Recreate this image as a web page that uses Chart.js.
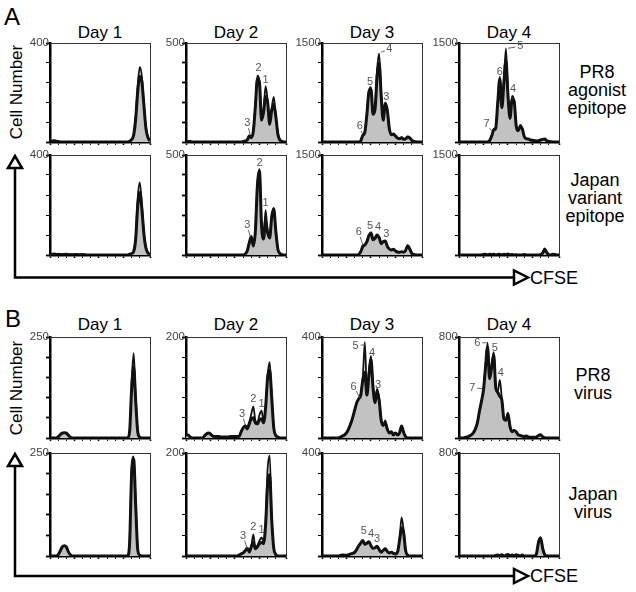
<!DOCTYPE html>
<html>
<head>
<meta charset="utf-8">
<script src="https://cdn.jsdelivr.net/npm/chart.js@4.4.1/dist/chart.umd.min.js"></script>
<style>
  body { margin: 0; background: #fff; }
  #fig { position: relative; width: 636px; height: 592px; overflow: hidden;
         font-family: 'Liberation Sans', Arial, sans-serif; color: #000; }
  #fig canvas { position: absolute; }
  #fig svg { position: absolute; left: 0; top: 0; }
  .t { position: absolute; white-space: nowrap; }
  .day { font-size: 17px; line-height: 17px; transform: translateX(-50%); }
  .big { font-size: 24px; line-height: 24px; }
  .ylab { font-size: 17px; line-height: 17px; transform: translate(-50%, -50%) rotate(-90deg); }
  .side { font-size: 18px; line-height: 18px; text-align: center; transform: translateX(-50%); }
  .cfse { font-size: 18px; line-height: 18px; }
</style>
</head>
<body>
<div id="fig">
  <svg width="636" height="592">
    <g stroke="#000" stroke-width="2.5" fill="#fff">
      <polyline points="15,168 15,277.5 514,277.5" fill="none"/>
      <polygon points="8,168 22,168 15,156"/>
      <polygon points="514,270.5 514,284.5 528,277.5"/>
      <polyline points="15,466 15,576 514,576" fill="none"/>
      <polygon points="8,466 22,466 15,454"/>
      <polygon points="514,569 514,583 528,576"/>
    </g>
  </svg>
  <div class="t big" style="left:4px; top:5px;">A</div>
  <div class="t big" style="left:5px; top:307px;">B</div>
  <div class="t ylab" style="left:15.5px; top:92px;">Cell Number</div>
  <div class="t ylab" style="left:15.5px; top:388px;">Cell Number</div>
  <div class="t side" style="left:597px; top:63px;">PR8<br>agonist<br>epitope</div>
  <div class="t side" style="left:595px; top:171px;">Japan<br>variant<br>epitope</div>
  <div class="t side" style="left:593px; top:366px;">PR8<br>virus</div>
  <div class="t side" style="left:593px; top:485px;">Japan<br>virus</div>
  <div class="t cfse" style="left:530px; top:269px;">CFSE</div>
  <div class="t cfse" style="left:530px; top:567px;">CFSE</div>
</div>
<script>
// CFSE channel bins (x) shared by every histogram
const bins = [0,1,2,3,4,5,6,7,8,9, 10,11,12,13,14,15,16,17,18,19, 20,21,22,23,24,25,26,27,28,29,
              30,31,32,33,34,35,36,37,38,39, 40,41,42,43,44,45,46,47,48,49];

const dayTitles = ['Day 1', 'Day 2', 'Day 3', 'Day 4'];
const rowMax = [
  [400, 500, 1500, 1500],
  [400, 500, 1500, 1500],
  [250, 200, 400, 800],
  [250, 200, 400, 800]
];
// major tick spacing on each count axis
const rowMajor = [
  [100, 100, 500, 500],
  [100, 100, 500, 500],
  [50, 50, 100, 200],
  [50, 50, 100, 200]
];

// A - PR8 agonist epitope
const a1d1Grey = [6,4,5,3,2,0,0,0,0,0, 0,0,0,0,0,0,0,0,0,0, 0,0,0,0,0,0,0,0,0,0, 0,0,0,0,0,0,0,0,0,3, 10,28,95,205,265,245,150,55,18,4];
const a1d1Line = [6,4,5,3,2,0,0,0,0,0, 0,0,0,0,0,0,0,0,0,0, 0,0,0,0,0,0,0,0,0,0, 0,0,0,0,0,0,0,0,0,3, 10,30,105,230,303,265,155,58,18,4];
const a1d2Grey = [3,2,2,0,0,0,0,0,0,0, 0,0,0,0,0,0,0,0,0,0, 0,0,0,0,0,0,0,0,2,5, 10,30,22,55,180,320,300,110,150,230, 200,90,160,190,130,40,10,3,0,0];
const a1d2Line = [3,2,2,0,0,0,0,0,0,0, 0,0,0,0,0,0,0,0,0,0, 0,0,0,0,0,0,0,0,2,5, 10,32,22,58,190,335,310,115,160,282, 210,95,170,228,135,42,10,3,0,0];
const a1d3Grey = [0,0,0,0,0,0,0,0,0,0, 0,0,0,0,0,0,0,0,0,20, 100,150,420,760,800,420,500,1000,1200,700, 330,580,480,200,110,120,90,60,50,65, 40,50,75,60,25,10,3,0,0,0];
const a1d3Line = [0,0,0,0,0,0,0,0,0,0, 0,0,0,0,0,0,0,0,0,20, 100,155,440,780,830,440,520,1100,1340,720, 340,600,490,210,115,125,95,62,52,68, 42,52,80,62,26,10,3,0,0,0];
const a1d4Grey = [0,0,0,0,0,0,0,0,0,0, 0,0,0,0,0,20,90,180,210,600, 960,520,900,1240,700,360,640,620,250,170, 230,200,80,50,45,30,25,20,15,20, 30,40,45,20,8,3,0,0,0,0];
const a1d4Line = [0,0,0,0,0,0,0,0,0,0, 0,0,0,0,0,22,95,200,220,620, 990,540,920,1420,720,370,700,640,260,175, 260,210,85,52,46,32,26,21,16,21, 31,42,47,21,8,3,0,0,0,0];

// A - Japan variant epitope
const a2d1Grey = [3,2,4,2,3,2,1,2,3,1, 2,1,2,2,1,1,2,1,0,0, 0,0,0,0,0,0,0,0,0,0, 0,0,0,0,0,0,0,0,0,3, 6,14,65,200,250,185,85,28,8,2];
const a2d1Line = [3,2,4,2,3,2,1,2,3,1, 2,1,2,2,1,1,2,1,0,0, 0,0,0,0,0,0,0,0,0,0, 0,0,0,0,0,0,0,0,0,3, 6,15,70,230,290,205,90,28,8,2];
const a2d2Grey = [0,0,0,0,0,0,0,0,0,0, 0,0,0,0,0,0,0,0,0,0, 0,0,0,0,0,0,0,0,0,5, 20,60,90,45,120,350,420,150,80,170, 110,85,190,230,120,30,8,2,0,0];
const a2d2Line = [0,0,0,0,0,0,0,0,0,0, 0,0,0,0,0,0,0,0,0,0, 0,0,0,0,0,0,0,0,0,5, 22,62,95,48,125,360,430,155,85,225, 115,90,195,235,125,32,8,2,0,0];
const a2d3Grey = [0,0,0,0,0,0,0,0,0,0, 0,0,0,0,0,0,0,0,10,50, 130,150,200,290,330,230,250,300,260,170, 200,210,130,90,75,85,60,45,40,50, 40,70,140,90,25,8,0,0,0,0];
const a2d3Line = [0,0,0,0,0,0,0,0,0,0, 0,0,0,0,0,0,0,0,10,50, 135,155,210,300,340,240,260,310,265,175, 205,215,135,92,78,88,62,46,42,52, 42,72,145,92,26,8,0,0,0,0];
const a2d4Grey = [0,0,0,0,0,0,0,0,0,0, 0,0,8,10,0,12,5,10,0,8, 12,0,10,6,15,0,8,0,5,0, 0,0,6,0,0,0,0,0,0,0, 5,30,85,35,5,0,10,8,0,0];
const a2d4Line = [0,0,0,0,0,0,0,0,0,0, 0,0,8,10,0,12,5,10,0,8, 12,0,10,6,15,0,8,0,5,0, 0,0,6,0,0,0,0,0,0,0, 5,32,100,38,5,0,10,8,0,0];

// B - PR8 virus
const b1d1Grey = [0,0,0,0,3,8,12,13,12,7, 2,0,0,0,0,0,0,0,0,0, 0,0,0,0,0,0,0,0,0,0, 0,0,0,0,0,0,0,0,0,15, 120,175,90,15,2,0,0,0,0,0];
const b1d1Line = [0,0,0,0,3,8,12,13,12,7, 2,0,0,0,0,0,0,0,0,0, 0,0,0,0,0,0,0,0,0,0, 0,0,0,0,0,0,0,0,0,15, 140,210,100,15,2,0,0,0,0,0];
const b1d2Grey = [6,6,2,0,0,0,0,0,0,4, 8,10,8,4,3,3,3,2,2,2, 2,2,3,3,3,3,3,12,20,24, 18,28,38,40,30,28,36,38,30,60, 120,134,80,20,5,2,0,0,0,0];
const b1d2Line = [6,6,2,0,0,0,0,0,0,4, 8,10,8,4,3,3,3,2,2,2, 2,2,3,3,3,3,3,12,20,25, 18,30,48,62,34,30,46,54,34,62, 125,150,82,20,5,2,0,0,0,0];
const b1d3Grey = [0,0,0,0,0,0,0,0,0,3, 8,12,20,35,55,80,110,140,155,170, 230,260,170,250,310,200,140,185,150,70, 50,60,35,20,25,12,20,12,20,48, 22,5,0,0,0,0,0,0,0,0];
const b1d3Line = [0,0,0,0,0,0,0,0,0,3, 8,12,20,35,55,80,110,140,155,175, 240,380,180,265,325,210,145,195,155,72, 52,70,35,20,25,12,20,12,20,48, 22,5,0,0,0,0,0,0,0,0];
const b1d4Grey = [0,0,0,5,8,15,25,40,70,120, 210,290,380,560,720,470,560,660,400,360, 330,300,150,140,190,90,50,60,50,25, 20,15,12,15,8,5,5,5,8,20, 25,10,2,0,0,0,0,0,0,0];
const b1d4Line = [0,0,0,5,8,15,25,40,70,120, 210,290,390,570,755,480,580,680,410,370, 460,310,155,145,200,90,50,60,50,25, 20,15,12,15,8,5,5,5,8,20, 25,10,2,0,0,0,0,0,0,0];

// B - Japan virus
const b2d1Grey = [0,0,0,0,3,12,22,25,22,10, 3,0,0,0,0,0,0,0,0,0, 0,0,0,0,0,0,0,0,0,0, 0,0,0,0,0,0,0,0,0,30, 200,235,120,15,2,0,0,0,0,0];
const b2d1Line = [0,0,0,0,3,12,22,25,22,10, 3,0,0,0,0,0,0,0,0,0, 0,0,0,0,0,0,0,0,0,0, 0,0,0,0,0,0,0,0,0,30, 210,242,125,15,2,0,0,0,0,0];
const b2d2Grey = [0,0,0,0,0,0,0,0,0,0, 0,0,0,0,0,0,0,0,0,0, 0,0,0,0,0,0,2,4,6,10, 15,8,18,26,14,18,24,26,24,60, 140,158,70,15,3,0,0,0,0,0];
const b2d2Line = [0,0,0,0,0,0,0,0,0,0, 0,0,0,0,0,0,0,0,0,0, 0,0,0,0,0,0,2,4,6,10, 15,8,20,42,15,20,30,36,28,62, 170,195,72,15,3,0,0,0,0,0];
const b2d3Grey = [0,0,0,0,0,0,0,0,0,2, 4,3,3,5,8,10,14,25,40,50, 60,45,50,55,40,30,32,38,25,15, 22,28,18,12,15,10,8,15,60,110, 90,20,3,0,0,0,0,0,0,0];
const b2d3Line = [0,0,0,0,0,0,0,0,0,2, 4,3,3,5,8,10,14,25,40,50, 60,45,50,55,40,30,32,38,25,15, 22,28,18,12,15,10,8,15,65,150, 100,22,3,0,0,0,0,0,0,0];
const b2d4Grey = [0,0,0,0,0,0,0,0,0,0, 0,0,0,0,0,0,0,0,5,8, 0,10,0,6,12,0,8,0,10,5, 0,8,0,0,0,0,0,0,20,110, 140,60,10,0,0,0,0,0,0,0];
const b2d4Line = [0,0,0,0,0,0,0,0,0,0, 0,0,0,0,0,0,0,0,5,8, 0,10,0,6,12,0,8,0,10,5, 0,8,0,0,0,0,0,0,20,115, 145,62,10,0,0,0,0,0,0,0];

// division number labels: [text, bin, count, (leader to bin, count)]
const a1d2Notes = [['2', 35.5, 375], ['1', 39, 313], ['3', 30, 96, 31.5, 35]];
const a1d3Notes = [['4', 33, 1410, 29, 1360], ['5', 23.5, 910], ['3', 31.5, 680], ['6', 18.5, 240, 19.8, 120]];
const a1d4Notes = [['5', 30, 1450, 24, 1420], ['6', 20, 1060], ['4', 26.5, 800], ['7', 13.5, 270, 16, 170]];
const a2d2Notes = [['2', 36, 460], ['1', 39, 260], ['3', 30, 150, 31.5, 90]];
const a2d3Notes = [['6', 18, 345, 20, 150], ['5', 23.5, 435], ['4', 27.5, 420], ['3', 31.5, 315]];
const b1d2Notes = [['3', 27.5, 48, 29, 26], ['2', 33, 78], ['1', 37, 68]];
const b1d3Notes = [['5', 16.5, 364, 21, 370], ['4', 24.5, 336], ['6', 15.5, 204, 18.5, 160], ['3', 27.5, 212]];
const b1d4Notes = [['6', 9, 752, 13.5, 755], ['5', 17.5, 712], ['4', 20.5, 512], ['7', 6.5, 400, 11.5, 390]];
const b2d2Notes = [['3', 28, 39, 30, 14], ['2', 33, 56], ['1', 37, 50]];
const b2d3Notes = [['5', 20.5, 96], ['4', 24, 84], ['3', 27, 68]];

const panels = [
  [[a1d1Grey, a1d1Line, []], [a1d2Grey, a1d2Line, a1d2Notes], [a1d3Grey, a1d3Line, a1d3Notes], [a1d4Grey, a1d4Line, a1d4Notes]],
  [[a2d1Grey, a2d1Line, []], [a2d2Grey, a2d2Line, a2d2Notes], [a2d3Grey, a2d3Line, a2d3Notes], [a2d4Grey, a2d4Line, []]],
  [[b1d1Grey, b1d1Line, []], [b1d2Grey, b1d2Line, b1d2Notes], [b1d3Grey, b1d3Line, b1d3Notes], [b1d4Grey, b1d4Line, b1d4Notes]],
  [[b2d1Grey, b2d1Line, []], [b2d2Grey, b2d2Line, b2d2Notes], [b2d3Grey, b2d3Line, b2d3Notes], [b2d4Grey, b2d4Line, []]]
];

// layout of the plot boxes (page px)
const colLeft = [50, 186, 322, 459];
const rowTop = [43, 155, 337, 453];
const boxH = [99, 100, 101, 103];
const boxW = 100;
const FONT = "'Liberation Sans', Arial, sans-serif";
const fig = document.getElementById('fig');

function labelPlugin(notes) {
  return {
    id: 'peakLabels',
    afterDatasetsDraw(chart) {
      const { ctx, scales: { x, y } } = chart;
      ctx.save();
      ctx.font = '11px ' + FONT;
      ctx.fillStyle = '#555';
      ctx.strokeStyle = '#555';
      ctx.lineWidth = 0.9;
      ctx.textAlign = 'center';
      ctx.textBaseline = 'middle';
      notes.forEach(n => {
        const tx = x.getPixelForValue(n[1]), ty = y.getPixelForValue(n[2]);
        ctx.fillText(n[0], tx, ty);
        if (n.length > 3) {
          const px = x.getPixelForValue(n[3]), py = y.getPixelForValue(n[4]);
          const dx = px - tx, dy = py - ty, d = Math.hypot(dx, dy) || 1;
          ctx.beginPath();
          ctx.moveTo(tx + dx / d * 5, ty + dy / d * 5);
          ctx.lineTo(px, py);
          ctx.stroke();
        }
      });
      ctx.restore();
    }
  };
}

function makePanel(r, c) {
  const [grey, line, notes] = panels[r][c];
  const ymax = rowMax[r][c];
  const minor = rowMajor[r][c] / 5;
  const padL = 34, padT = 8, padR = 4, padB = 5;
  const h = boxH[r];
  const cv = document.createElement('canvas');
  cv.width = padL + boxW + padR;
  cv.height = padT + h + padB;
  cv.style.left = (colLeft[c] - padL) + 'px';
  cv.style.top = (rowTop[r] - padT) + 'px';
  fig.appendChild(cv);

  new Chart(cv.getContext('2d'), {
    type: 'line',
    data: {
      labels: bins,
      datasets: [
        { data: grey, backgroundColor: '#c2c2c2', borderColor: '#111', borderWidth: 3, fill: 'origin' },
        { data: line, backgroundColor: '#fff', borderColor: '#111', borderWidth: 1.8, fill: 'origin' }
      ]
    },
    options: {
      responsive: false,
      animation: false,
      events: [],
      layout: { padding: { top: padT, right: padR, left: 0, bottom: 0 } },
      plugins: { legend: { display: false }, tooltip: { enabled: false } },
      elements: {
        point: { radius: 0 },
        line: { cubicInterpolationMode: 'monotone', borderJoinStyle: 'round' }
      },
      scales: {
        x: {
          type: 'linear', min: 0, max: 49,
          ticks: { display: false, stepSize: 4 },
          grid: { drawOnChartArea: false, tickLength: 3, tickColor: '#000',
                  tickWidth: ctx => (ctx.index % 3 === 0 ? 1.6 : 1) },
          border: { color: '#000', width: 2.5 },
          afterFit: s => { s.height = padB; }
        },
        y: {
          min: 0, max: ymax,
          ticks: {
            stepSize: minor, padding: -3, color: '#444',
            font: { size: 11.5, family: FONT },
            callback: v => (v === ymax ? String(ymax) : '')
          },
          grid: { drawOnChartArea: false, tickLength: 4, tickColor: '#000',
                  tickWidth: ctx => (ctx.index % 5 === 0 ? 1.8 : 1) },
          border: { color: '#000', width: 2.5 },
          afterFit: s => { s.width = padL; }
        },
        x2: {
          type: 'linear', position: 'top', min: 0, max: 1,
          ticks: { display: false }, grid: { display: false },
          border: { color: '#333', width: 1 },
          afterFit: s => { s.height = 0; }
        },
        y2: {
          type: 'linear', position: 'right', min: 0, max: 1,
          ticks: { display: false }, grid: { display: false },
          border: { color: '#333', width: 1 },
          afterFit: s => { s.width = 0; }
        }
      }
    },
    plugins: [labelPlugin(notes)]
  });
}

// day titles over rows A1 and B1
[23.5, 316].forEach(top => {
  dayTitles.forEach((t, c) => {
    const d = document.createElement('div');
    d.className = 't day';
    d.style.left = (colLeft[c] + boxW / 2) + 'px';
    d.style.top = top + 'px';
    d.textContent = t;
    fig.appendChild(d);
  });
});

for (let r = 0; r < 4; r++) {
  for (let c = 0; c < 4; c++) makePanel(r, c);
}
</script>
</body>
</html>
